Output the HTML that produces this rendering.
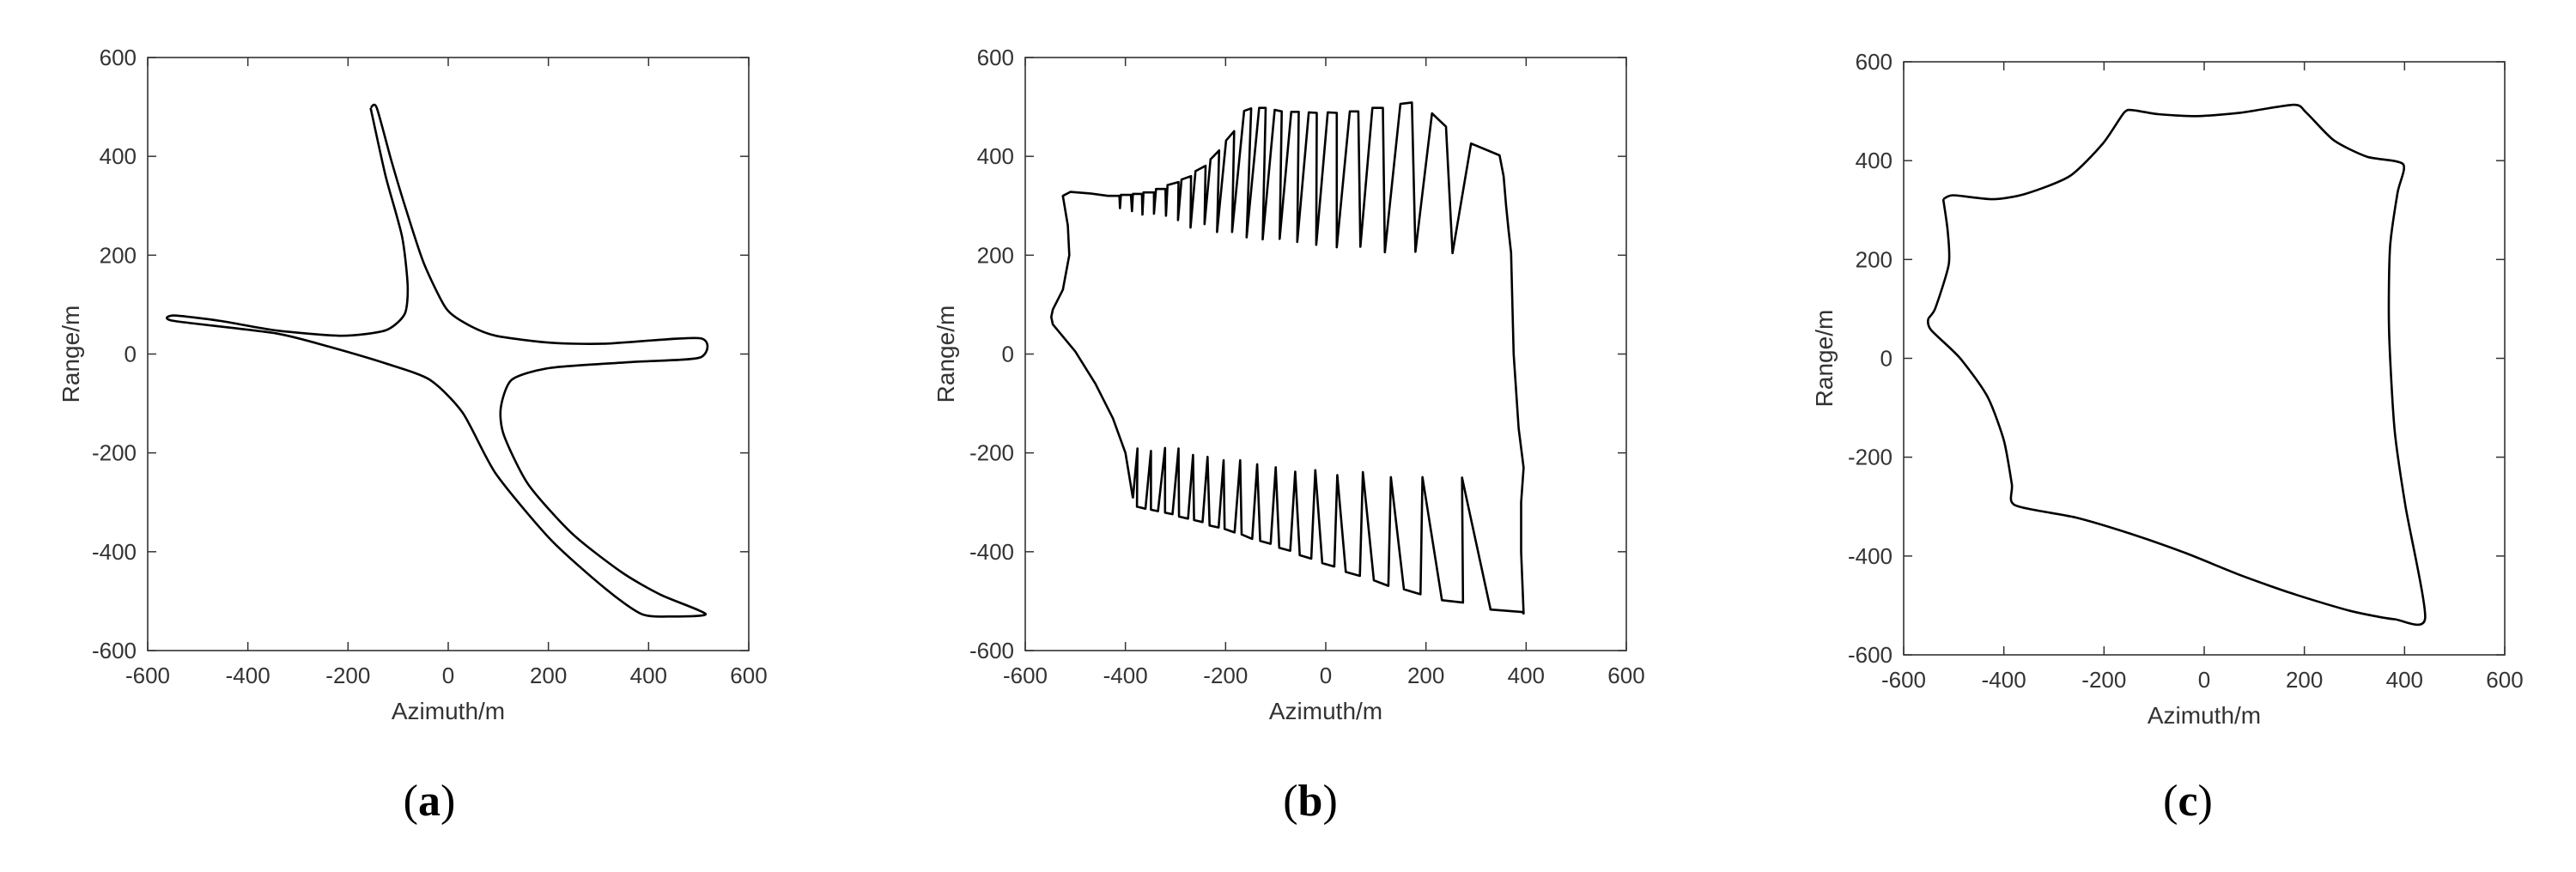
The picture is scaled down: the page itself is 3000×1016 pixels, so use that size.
<!DOCTYPE html>
<html><head><meta charset="utf-8"><style>
html,body{margin:0;padding:0;background:#fff;}
svg{display:block;}
text{font-family:"Liberation Sans",Arial,sans-serif;fill:#333;}
.cap{font-family:"Liberation Serif",serif;fill:#000;}
</style></head><body>
<svg id="fig" width="3000" height="1016" viewBox="0 0 3000 1016" xmlns="http://www.w3.org/2000/svg"></svg>
<script>
// ---------- data (metres) ----------
const ticks = [-600,-400,-200,0,200,400,600];
// panel (a)
const aX = [-155,-143,-114,-81,-48,-4,40,95,204,314,503,503,369,204,127,105,111,160,248,347,424,514,446,386,314,204,95,29,-37,-125,-235,-345,-548,-548,-455,-345,-213,-125,-87,-81,-92,-125,-155];
const aY = [498,499,393,282,182,92,59,37,23,21,32,-7,-16,-28,-52,-108,-164,-264,-364,-442,-487,-526,-531,-526,-475,-375,-242,-119,-52,-19,14,42,67,78,67,48,37,48,81,137,237,360,498];
// panel (b) left outline
const bLeftX = [-385,-400,-425,-460,-500,-545,-548,-545,-525,-512,-515,-525,-510,-470,-435];
const bLeftY = [-292,-200,-130,-60,5,60,75,90,130,200,260,320,328,325,320];
// panel (b) upper teeth
const tStartX = [-435,-409,-385,-364,-339,-316,-288,-260,-230,-199,-163,-133,-102,-69,-34,4,48,93,149,212,290];
const tStartY = [320,322,324,327,334,342,353,370,394,432,492,498,494,490,489,489,491,498,506,487,426];
const tEndX = [-412,-389,-367,-343,-320,-294,-269,-240,-213,-183,-149,-120,-88,-54,-18,22,65,114,172,240,347];
const tEndY = [320,322,324,327,334,348,360,381,412,451,497,498,491,490,488,488,491,498,509,460,402];
const tValX = [-411,-387,-366,-343,-319,-295,-270,-242,-217,-187,-158,-126,-92,-57,-19,22,69,118,179,253];
const tValY = [295,289,282,284,280,271,256,263,247,247,236,232,233,227,221,216,217,206,207,204];
// panel (b) right edge
const bRightX = [355,360,365,370,375,385,395,390,390,395];
const bRightY = [360,300,250,205,0,-150,-230,-300,-400,-525];
// panel (b) lower teeth
const lTipX = [-376,-349,-321,-294,-265,-236,-204,-171,-137,-100,-61,-21,23,74,130,193,272];
const lTipY = [-191,-196,-190,-191,-204,-208,-215,-215,-223,-229,-238,-235,-245,-239,-249,-249,-250];
const lFsX = [-377,-349,-321,-293,-263,-232,-202,-168,-131,-93,-52,-7,40,96,156,232,329];
const lFsY = [-309,-315,-321,-329,-336,-347,-354,-365,-378,-392,-407,-423,-441,-458,-476,-498,-517];
const lFeX = [-360,-335,-306,-275,-246,-214,-182,-147,-110,-71,-29,17,68,125,189,274,392];
const lFeY = [-313,-318,-324,-333,-340,-351,-361,-374,-384,-398,-414,-430,-449,-469,-486,-503,-522];
// panel (c)
const cX = [-521,-501,-422,-356,-268,-202,-160,-142,-92,-15,73,179,204,259,325,397,386,371,369,380,402,441,380,292,182,73,-37,-147,-257,-378,-384,-400,-433,-488,-545,-551,-537,-510,-512,-521];
const cY = [322,330,322,333,369,435,497,502,494,490,497,513,497,441,408,393,335,224,57,-144,-300,-526,-528,-511,-478,-439,-394,-355,-322,-297,-255,-166,-77,1,57,79,101,190,257,322];

// ---------- drawing ----------
const NS = "http://www.w3.org/2000/svg";
const svg = document.getElementById('fig');
function mk(tag, attrs, parent){
  const e = document.createElementNS(NS, tag);
  for (const k in attrs) e.setAttribute(k, attrs[k]);
  (parent||svg).appendChild(e);
  return e;
}
function buildB(){
  const xs=[], ys=[];
  for (let i=0;i<bLeftX.length;i++){xs.push(bLeftX[i]);ys.push(bLeftY[i]);}
  for (let i=0;i<tStartX.length;i++){
    xs.push(tStartX[i]);ys.push(tStartY[i]);
    xs.push(tEndX[i]);ys.push(tEndY[i]);
    if (i<tValX.length){xs.push(tValX[i]);ys.push(tValY[i]);}
  }
  for (let i=0;i<bRightX.length;i++){xs.push(bRightX[i]);ys.push(bRightY[i]);}
  for (let i=lTipX.length-1;i>=0;i--){
    xs.push(lFeX[i]);ys.push(lFeY[i]);
    xs.push(lFsX[i]);ys.push(lFsY[i]);
    xs.push(lTipX[i]);ys.push(lTipY[i]);
  }
  xs.push(bLeftX[0]);ys.push(bLeftY[0]);
  return [xs,ys];
}
const bData = buildB();
const panels = [
  {id:'a', L:172, R:872, T:67, B:758, xs:aX, ys:aY, ylab:82, cap:500, smooth:true},
  {id:'b', L:1194, R:1894, T:67, B:758, xs:bData[0], ys:bData[1], ylab:1101, cap:1526, smooth:false},
  {id:'c', L:2217, R:2917, T:72, B:763, xs:cX, ys:cY, ylab:2124, cap:2548, smooth:true}
];
function smoothPath(P){
  // Catmull-Rom -> cubic bezier, reduced tension
  let d='M'+P[0][0].toFixed(1)+' '+P[0][1].toFixed(1);
  const k=0.12;
  for (let i=0;i<P.length-1;i++){
    const p0=P[Math.max(0,i-1)], p1=P[i], p2=P[i+1], p3=P[Math.min(P.length-1,i+2)];
    const c1=[p1[0]+(p2[0]-p0[0])*k, p1[1]+(p2[1]-p0[1])*k];
    const c2=[p2[0]-(p3[0]-p1[0])*k, p2[1]-(p3[1]-p1[1])*k];
    d+='C'+c1[0].toFixed(1)+' '+c1[1].toFixed(1)+' '+c2[0].toFixed(1)+' '+c2[1].toFixed(1)+' '+p2[0].toFixed(1)+' '+p2[1].toFixed(1);
  }
  return d;
}
panels.forEach(p=>{
  const g = mk('g',{});
  
  
  const sx = v => p.L + (v+600)/1200*(p.R-p.L);
  const sy = v => p.B - (v+600)/1200*(p.B-p.T);
  const frame = mk('rect',{x:p.L,y:p.T,width:p.R-p.L,height:p.B-p.T,fill:'none',stroke:'#333','stroke-width':1.6},g);
  
  
  ticks.forEach(t=>{
    const X=sx(t), Y=sy(t);
    mk('line',{x1:X,y1:p.B,x2:X,y2:p.B-10,stroke:'#333','stroke-width':1.5},g);
    mk('line',{x1:X,y1:p.T,x2:X,y2:p.T+10,stroke:'#333','stroke-width':1.5},g);
    mk('line',{x1:p.L,y1:Y,x2:p.L+10,y2:Y,stroke:'#333','stroke-width':1.5},g);
    mk('line',{x1:p.R,y1:Y,x2:p.R-10,y2:Y,stroke:'#333','stroke-width':1.5},g);
    const xt = mk('text',{x:X,y:p.B+38,'font-size':26,'text-anchor':'middle'},g);
    xt.textContent = t;
    
    
    const yt = mk('text',{x:p.L-13,y:Y+9,'font-size':26,'text-anchor':'end'},g);
    yt.textContent = t;
    
    
  });
  const xl = mk('text',{x:(p.L+p.R)/2,y:p.B+80,'font-size':28,'text-anchor':'middle'},g);
  xl.textContent='Azimuth/m';
  
  
  const yc=(p.T+p.B)/2;
  const yl = mk('text',{x:p.ylab+10,y:yc,'font-size':28,'text-anchor':'middle',transform:'rotate(-90 '+(p.ylab+10)+' '+yc+')'},g);
  yl.textContent='Range/m';
  
  
  const P=[];
  for (let i=0;i<p.xs.length;i++) P.push([sx(p.xs[i]), sy(p.ys[i])]);
  let d;
  if (p.smooth) d=smoothPath(P);
  else { d=''; P.forEach((q,i)=>{ d+=(i?'L':'M')+q[0].toFixed(1)+' '+q[1].toFixed(1); }); }
  const path = mk('path',{d:d,fill:'none',stroke:'#000','stroke-width':2.6,'stroke-linejoin':'round'},g);
  
  
  const cap = mk('text',{x:p.cap,y:950,'font-size':52,'text-anchor':'middle','class':'cap'},g);
  cap.innerHTML = '(<tspan font-weight="bold">'+p.id+'</tspan>)';
  
  
});
</script>
</body></html>
